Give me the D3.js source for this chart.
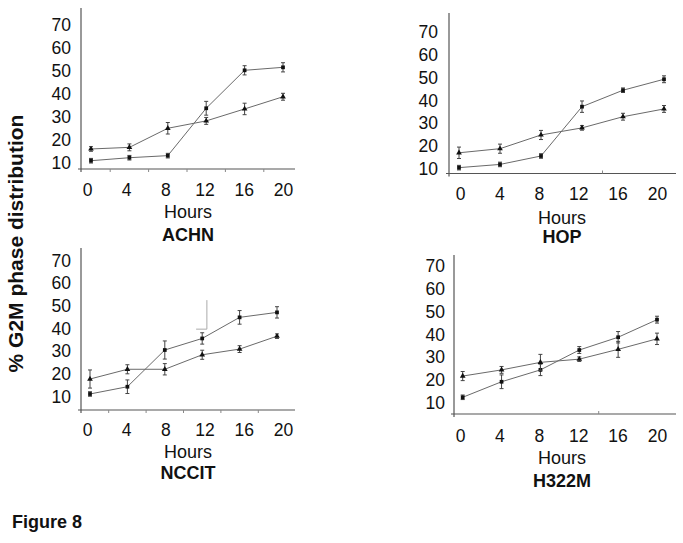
<!DOCTYPE html>
<html>
<head>
<meta charset="utf-8">
<script src="https://cdn.jsdelivr.net/npm/d3@7"></script>
<style>
  html, body { margin: 0; padding: 0; background: #fff; }
  svg { display: block; }
  text { font-family: "Liberation Sans", Arial, sans-serif; fill: #111; }
</style>
</head>
<body>
<svg id="chart" width="683" height="543"></svg>
<script>
// ---------- data ----------
const hours = [0, 4, 8, 12, 16, 20];
const yTicks = [10, 20, 30, 40, 50, 60, 70];
const cellLines = ["ACHN", "HOP", "NCCIT", "H322M"];
const xLabel = "Hours";
const yLabel = "% G2M phase distribution";
const figureLabel = "Figure 8";

const achnA = [11.0, 12.3, 13.2, 33.8, 50.3, 51.6];
const achnAErr = [1, 1, 1, 3, 2, 2];
const achnB = [16.1, 16.8, 25.1, 28.3, 33.5, 38.8];
const achnBErr = [1, 1.5, 2.5, 1.5, 2.5, 1.5];

const hopA = [10.6, 12.0, 15.7, 37.3, 44.5, 49.3];
const hopAErr = [1, 1, 1, 2.5, 1, 1.5];
const hopB = [17.1, 18.9, 24.9, 28.0, 32.9, 36.3];
const hopBErr = [2.5, 2, 2, 1, 1.5, 1.5];

const nccitA = [11.2, 14.4, 30.6, 35.7, 45.0, 47.2];
const nccitAErr = [1, 3, 4, 2.5, 3, 2.5];
const nccitB = [17.8, 22.1, 22.1, 28.5, 31.0, 36.7];
const nccitBErr = [4, 2, 2.5, 2, 1.5, 1];

const h322mA = [12.5, 19.3, 24.5, 33.2, 38.8, 46.5];
const h322mAErr = [1, 3, 2.5, 1.5, 2.5, 1.5];
const h322mB = [21.8, 24.5, 27.8, 29.2, 33.5, 38.1];
const h322mBErr = [2, 1.5, 3.5, 1, 3.5, 2.5];

// stray mark in the NCCIT panel (data space)
const nccitStrayHours = [11.35, 12.5, 12.5];
const nccitStrayValues = [39.8, 39.8, 52.6];

const minorTickHoursLeft = [2, 6, 10, 14, 18];
const minorTickHoursRight = [14];

// ---------- layout ----------
const layout = {
  ACHN:  { axisX: 81,  top: 8,   base: 169,   end: 295, x0: 91,    x20: 283, lx0: 87,  lx20: 283, y10: 163,   y70: 25,    labR: 71,  xLabY: 190, hoursY: 212, titleY: 235, cx: 188, tickDir: 1,  ticks: minorTickHoursLeft },
  HOP:   { axisX: 449, top: 13,  base: 173.5, end: 676, x0: 459,   x20: 664, lx0: 460, lx20: 657, y10: 169,   y70: 32,    labR: 438, xLabY: 194, hoursY: 218, titleY: 237, cx: 562, tickDir: -1, ticks: minorTickHoursRight },
  NCCIT: { axisX: 81,  top: 248, base: 410,   end: 295, x0: 90,    x20: 277, lx0: 87,  lx20: 283, y10: 396.7, y70: 260.7, labR: 71,  xLabY: 430, hoursY: 452, titleY: 473, cx: 188, tickDir: 1,  ticks: minorTickHoursLeft },
  H322M: { axisX: 454, top: 255, base: 414,   end: 676, x0: 462.7, x20: 657, lx0: 460, lx20: 657, y10: 403,   y70: 266,   labR: 445, xLabY: 436, hoursY: 458, titleY: 481, cx: 562, tickDir: -1, ticks: minorTickHoursRight }
};

const seriesByPanel = {
  ACHN:  [{ v: achnA,  e: achnAErr,  m: "square" }, { v: achnB,  e: achnBErr,  m: "tri" }],
  HOP:   [{ v: hopA,   e: hopAErr,   m: "square" }, { v: hopB,   e: hopBErr,   m: "tri" }],
  NCCIT: [{ v: nccitA, e: nccitAErr, m: "square" }, { v: nccitB, e: nccitBErr, m: "tri" }],
  H322M: [{ v: h322mA, e: h322mAErr, m: "square" }, { v: h322mB, e: h322mBErr, m: "tri" }]
};

const svg = d3.select("#chart");
const tickFont = 17.5;
const lineColor = "#6a6a6a";
const axisColor = "#555";

cellLines.forEach(name => {
  const L = layout[name];
  const g = svg.append("g");
  const x = d3.scaleLinear().domain([0, 20]).range([L.x0, L.x20]);
  const xl = d3.scaleLinear().domain([0, 20]).range([L.lx0, L.lx20]);
  const y = d3.scaleLinear().domain([10, 70]).range([L.y10, L.y70]);

  // y axis labels
  const ya = g.append("g")
    .attr("transform", `translate(${L.axisX},0)`)
    .call(d3.axisLeft(y).tickValues(yTicks).tickSize(0).tickPadding(L.axisX - L.labR).tickFormat(d3.format("d")));
  ya.select(".domain").remove();
  ya.selectAll("text").style("font-size", tickFont + "px").attr("fill", "#111").style("font-family", "'Liberation Sans', Arial, sans-serif");

  // x axis labels
  const xa = g.append("g")
    .attr("transform", `translate(0,${L.base})`)
    .call(d3.axisBottom(xl).tickValues(hours).tickSize(0).tickPadding(L.xLabY - 6.3 - L.base).tickFormat(d3.format("d")));
  xa.select(".domain").remove();
  xa.selectAll("text").style("font-size", tickFont + "px").attr("fill", "#111").style("font-family", "'Liberation Sans', Arial, sans-serif");

  // axis lines
  g.append("line").attr("x1", L.axisX).attr("x2", L.axisX).attr("y1", L.top).attr("y2", L.base + 3)
    .attr("stroke", axisColor).attr("stroke-width", 1.2);
  g.append("line").attr("x1", L.axisX - 3).attr("x2", L.end).attr("y1", L.base).attr("y2", L.base)
    .attr("stroke", axisColor).attr("stroke-width", 1.2);
  g.selectAll(".mt").data(L.ticks).enter().append("line")
    .attr("x1", d => x(d)).attr("x2", d => x(d))
    .attr("y1", L.base).attr("y2", L.base + 3 * L.tickDir)
    .attr("stroke", "#888").attr("stroke-width", 1);

  // series
  seriesByPanel[name].forEach(s => {
    const pts = hours.map((h, i) => ({ h, v: s.v[i], e: s.e[i] }));
    g.append("path").datum(pts)
      .attr("fill", "none").attr("stroke", lineColor).attr("stroke-width", 1)
      .attr("d", d3.line().x(d => x(d.h)).y(d => y(d.v)));
    const eb = g.append("g");
    pts.forEach(d => {
      const xx = x(d.h), yt = y(d.v + d.e), yb = y(d.v - d.e);
      eb.append("line").attr("x1", xx).attr("x2", xx).attr("y1", yt).attr("y2", yb).attr("stroke", "#444").attr("stroke-width", 1);
      eb.append("line").attr("x1", xx - 2).attr("x2", xx + 2).attr("y1", yt).attr("y2", yt).attr("stroke", "#444").attr("stroke-width", 1);
      eb.append("line").attr("x1", xx - 2).attr("x2", xx + 2).attr("y1", yb).attr("y2", yb).attr("stroke", "#444").attr("stroke-width", 1);
    });
    const sym = d3.symbol().type(s.m === "square" ? d3.symbolSquare : d3.symbolTriangle).size(s.m === "square" ? 14 : 14);
    g.selectAll(null).data(pts).enter().append("path")
      .attr("d", sym).attr("transform", d => `translate(${x(d.h)},${y(d.v)})`)
      .attr("fill", "#111");
  });

  if (name === "NCCIT") {
    const pts = nccitStrayHours.map((h, i) => [x(h), y(nccitStrayValues[i])]);
    g.append("path").attr("d", d3.line()(pts)).attr("fill", "none").attr("stroke", "#aaa").attr("stroke-width", 1);
  }

  // Hours label and title
  g.append("text").attr("x", L.cx).attr("y", L.hoursY).attr("text-anchor", "middle")
    .attr("dominant-baseline", "central").style("font-size", "18px").text(xLabel);
  g.append("text").attr("x", L.cx).attr("y", L.titleY).attr("text-anchor", "middle")
    .attr("dominant-baseline", "central").style("font-size", "18px").style("font-weight", "bold").text(name);
});

// shared y label
svg.append("text")
  .attr("transform", "translate(22.5,243.5) rotate(-90)")
  .attr("text-anchor", "middle")
  .style("font-size", "21px").style("font-weight", "bold")
  .text(yLabel);

svg.append("text").attr("x", 12).attr("y", 528)
  .style("font-size", "18px").style("font-weight", "bold").text(figureLabel);
</script>
</body>
</html>
